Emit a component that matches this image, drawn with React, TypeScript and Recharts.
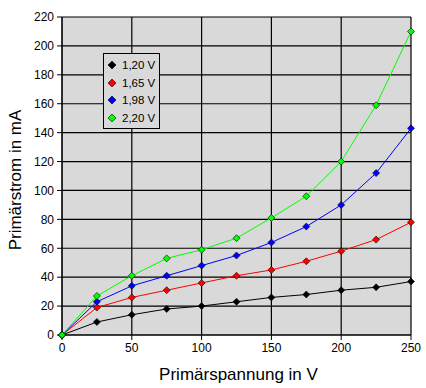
import { CartesianGrid, Label, Line, LineChart, XAxis, YAxis } from "recharts";

const spannung = [0, 25, 50, 75, 100, 125, 150, 175, 200, 225, 250];
const strom120 = [0, 9, 14, 18, 20, 23, 26, 28, 31, 33, 37];
const strom165 = [0, 19, 26, 31, 36, 41, 45, 51, 58, 66, 78];
const strom198 = [0, 23, 34, 41, 48, 55, 64, 75, 90, 112, 143];
const strom220 = [0, 27, 41, 53, 59, 67, 81, 96, 120, 159, 210];

const xTicks = [0, 50, 100, 150, 200, 250];
const yTicks = [0, 20, 40, 60, 80, 100, 120, 140, 160, 180, 200, 220];

const series = [
  { key: "v120", name: "1,20 V", color: "#000000", values: strom120 },
  { key: "v165", name: "1,65 V", color: "#ff0000", values: strom165 },
  { key: "v198", name: "1,98 V", color: "#0000ff", values: strom198 },
  { key: "v220", name: "2,20 V", color: "#00ff00", values: strom220 },
];

const data = spannung.map((u, i) => {
  const row: any = { u };
  series.forEach((s) => (row[s.key] = s.values[i]));
  return row;
});

const FONT = "'Liberation Sans', Arial, sans-serif";

const Diamond = (props: any) => {
  const { cx, cy, fill } = props;
  if (cx == null || cy == null) return null;
  const r = 3.5;
  return (
    <polygon
      points={`${cx},${cy - r} ${cx + r},${cy} ${cx},${cy + r} ${cx - r},${cy}`}
      fill={fill}
      stroke="#000"
      strokeWidth={0.6}
    />
  );
};

// legend drawn as an overlay so it doesn't shrink the plot
const LegendBox = () => (
  <div
    style={{
      position: "absolute",
      left: 103,
      top: 53,
      width: 57,
      height: 76,
      border: "1px solid #000",
      background: "#d9d9d9",
      fontFamily: FONT,
      fontSize: 11.5,
      boxSizing: "border-box",
      paddingTop: 2,
    }}
  >
    {series.map((s) => (
      <div key={s.key} style={{ display: "flex", alignItems: "center", height: 17.7 }}>
        <svg width={14} height={10} style={{ marginLeft: 3 }}>
          <polygon points="5,1 9,5 5,9 1,5" fill={s.color} stroke="#000" strokeWidth={0.6} />
        </svg>
        <span style={{ marginLeft: 1 }}>{s.name}</span>
      </div>
    ))}
  </div>
);

export default function App() {
  return (
    <div style={{ position: "absolute", left: 0, top: 0, background: "#fff" }}>
      <LineChart
        width={426}
        height={388}
        data={data}
        margin={{ top: 17, right: 15, bottom: 0, left: 0 }}
      >
        <CartesianGrid stroke="#000" fill="#d9d9d9" strokeWidth={1.2} />
        <XAxis
          dataKey="u"
          type="number"
          domain={[0, 250]}
          ticks={xTicks}
          height={53}
          stroke="#000"
          tickSize={5}
          tickMargin={3}
          tick={{ fill: "#000", fontSize: 12, fontFamily: FONT }}
        >
          <Label
            value="Primärspannung in V"
            position="insideBottom"
            offset={8}
            dx={2}
            style={{ fill: "#000", fontSize: 17, fontFamily: FONT }}
          />
        </XAxis>
        <YAxis
          type="number"
          domain={[0, 220]}
          ticks={yTicks}
          width={62}
          stroke="#000"
          tickSize={5}
          tickMargin={3}
          tick={{ fill: "#000", fontSize: 12, fontFamily: FONT }}
        >
          <Label
            value="Primärstrom in mA"
            angle={-90}
            position="insideLeft"
            offset={15}
            dy={4}
            style={{ fill: "#000", fontSize: 17, fontFamily: FONT, textAnchor: "middle" }}
          />
        </YAxis>
        {series.map((s) => (
          <Line
            key={s.key}
            dataKey={s.key}
            name={s.name}
            stroke={s.color}
            strokeWidth={1}
            fill={s.color}
            dot={<Diamond fill={s.color} />}
            activeDot={false}
            isAnimationActive={false}
          />
        ))}
      </LineChart>
      <LegendBox />
    </div>
  );
}
